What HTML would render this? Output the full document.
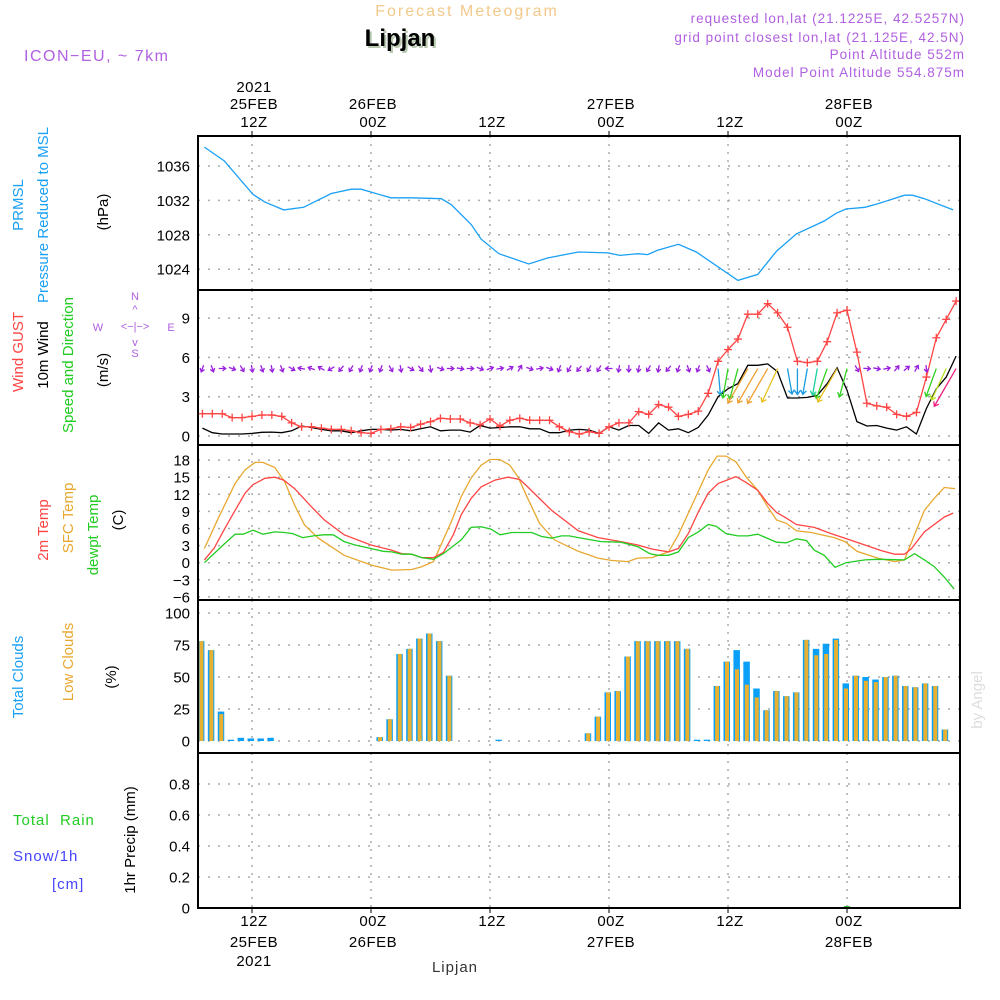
<!DOCTYPE html>
<html><head><meta charset="utf-8">
<style>
html,body{margin:0;padding:0;background:#fff;}
body{width:1000px;height:1000px;overflow:hidden;position:relative;font-family:"Liberation Sans",sans-serif;}
svg{position:absolute;left:0;top:0;}
text{font-family:"Liberation Sans",sans-serif;}
</style></head>
<body>
<svg id="chart" width="1000" height="1000" viewBox="0 0 1000 1000" xmlns="http://www.w3.org/2000/svg">
  <text x="467" y="16" text-anchor="middle" font-size="16" fill="#f2c98a" letter-spacing="2">Forecast Meteogram</text>
  <text x="402" y="48" text-anchor="middle" font-size="24" font-weight="bold" fill="#b8c8b0" font-family="Liberation Serif, serif">Lipjan</text>
  <text x="400" y="46" text-anchor="middle" font-size="24" font-weight="bold" fill="#000" font-family="Liberation Serif, serif">Lipjan</text>
  <text x="24" y="61" font-size="16" fill="#b060e0" letter-spacing="1.5">ICON−EU, ~ 7km</text>
  <g font-size="13.5" fill="#b060e0" text-anchor="end" letter-spacing="1">
    <text x="965" y="23">requested lon,lat (21.1225E, 42.5257N)</text>
    <text x="965" y="42">grid point closest lon,lat (21.125E, 42.5N)</text>
    <text x="965" y="59">Point Altitude 552m</text>
    <text x="965" y="77">Model Point Altitude 554.875m</text>
  </g>
  <g id="layer"></g>
</svg>
<script>
// ---------------- data ----------------
// hours since 25FEB 00Z
const pressTimes = [7.2,9.2,12.1,13.3,15.2,17.2,20,22,23,26,28.1,31.1,32.1,34.1,35.1,36.9,39.9,41.8,44.9,47.9,49.1,50.9,51.9,52.9,55,56.8,61,63,64.9,66.9,69.7,70.9,71.9,73.8,75.1,77.8,78.6,79.8,82.7];
const pressValues = [1038.2,1036.6,1032.7,1031.8,1030.9,1031.2,1032.8,1033.3,1033.3,1032.3,1032.3,1032.2,1031.5,1029.2,1027.5,1025.8,1024.6,1025.3,1026.0,1025.9,1025.6,1025.8,1025.7,1026.2,1026.9,1026.0,1022.7,1023.4,1026.1,1028.1,1029.6,1030.5,1031.0,1031.2,1031.6,1032.6,1032.6,1032.2,1030.9];

const hourStart = 7; // first hourly value: 25FEB 07Z
const gustValues = [1.7,1.7,1.7,1.4,1.4,1.5,1.6,1.6,1.5,1.0,0.7,0.7,0.6,0.5,0.5,0.4,0.25,0.2,0.5,0.55,0.7,0.65,0.9,1.1,1.35,1.3,1.3,1.0,0.85,1.3,0.75,1.2,1.35,1.2,1.2,1.2,0.7,0.33,0.15,0.33,
  0.2,0.7,1.0,1.0,1.86,1.65,2.4,2.2,1.5,1.65,1.9,3.26,5.7,6.6,7.4,9.3,9.3,10.1,9.4,8.3,5.7,5.6,5.7,7.2,9.4,9.6,6.4,2.5,2.3,2.2,1.65,1.5,1.8,4.5,7.5,8.9,10.3];
const windValues = [0.6,0.25,0.15,0.15,0.15,0.2,0.28,0.3,0.25,0.4,0.76,0.65,0.5,0.4,0.4,0.25,0.4,0.5,0.5,0.45,0.5,0.4,0.55,0.7,0.4,0.45,0.45,0.3,0.8,0.6,0.65,0.7,0.7,0.55,0.55,0.25,0.25,0.45,0.5,0.45,
  0.2,0.7,0.45,0.8,0.8,0.2,1.0,0.45,0.55,0.25,0.66,1.6,3.0,3.6,4.0,5.4,5.4,5.5,4.9,2.9,2.9,2.95,3.1,4.0,5.2,3.5,1.1,0.76,0.8,0.6,0.45,0.7,0.15,2.1,3.6,4.5,6.1];
// bearing (deg) the direction arrow points to
const windBearing = [200,160,90,110,150,170,160,170,160,120,280,290,300,240,220,210,200,200,200,150,170,120,140,170,110,90,100,90,110,70,80,60,30,110,80,110,200,210,220,210,
  210,270,190,180,190,210,190,220,200,160,200,155,175,190,195,210,210,210,205,170,180,190,190,200,210,195,150,95,100,80,40,50,30,175,200,205,210];

const t2Times = [7.2,8.2,9.2,10.1,11.3,12.1,13.3,14.3,15.2,16.3,18,19.3,21.3,24,26.1,27.1,28.1,29.1,30.3,31.3,32.3,33.1,34.1,35.1,36.5,37.8,39,39.8,42.2,44.9,46.9,49.2,50.9,52.3,54,55,56,57,58,59,60.8,61.8,63,64,64.9,65.9,66.9,68.7,70.4,71.8,73.8,75.5,76.8,77.8,78.5,79.8,81.8,82.7];
const t2Values = [0.5,2.6,5.8,8.6,12.2,13.7,14.8,15,14.5,13,9.8,7.5,4.9,3.1,2.2,1.6,1.5,0.9,0.9,1.8,4.9,8.4,11.3,13.3,14.5,15,14.6,13.3,9.2,5.6,4.4,3.7,3.1,2.4,1.9,2.5,5.1,8.9,12.2,13.9,15.1,14.1,12.7,10.4,8.8,7.8,6.7,6.2,5.1,4.3,3.1,2.1,1.5,1.5,2.5,5.4,8,8.7];
const sfcTimes = [7.2,8.6,10.3,11.3,12.3,13.1,14.3,15.3,16.3,17.3,18.7,21.3,24,26.1,28.1,29.1,30.3,32.1,33.1,34.1,35.1,36,37,38,38.8,39.8,41,42.5,44.9,46.9,48.2,49.9,50.9,52.3,54,55,56,57,58,58.9,59.8,60.8,61.8,63,64,64.9,65.9,66.9,68.4,70.7,71.8,73,75.1,76.8,77.8,78.8,79.8,80.8,81.8,82.9];
const sfcValues = [2.5,7.8,13.9,16.3,17.6,17.6,16.7,14.2,10.1,6.6,4.3,1.3,-0.4,-1.3,-1.2,-0.7,0.2,7.2,11.6,14.9,17.1,18.1,18.1,17.1,15.1,11.3,6.9,4,2,0.8,0.4,0.2,0.8,0.9,1.9,4.9,8.7,12.5,16.3,18.7,18.7,17.7,15.1,12.7,9.8,7.5,6.9,5.6,5.3,4.4,3.7,2,0.8,0.2,0.5,4.9,9.2,11.3,13.2,13];
const dewTimes = [7.2,9.1,10.3,11.1,12.1,13.1,14.3,15.3,16.1,17.1,18.2,19.2,20.2,21.3,22.4,24,25.2,26.1,27.1,28.1,29.1,30.3,31.3,33.1,34.1,35.1,36.1,37,38.2,40.2,41.2,42.2,43.2,44,44.9,47.2,49.2,50.9,52.1,52.9,54,55,56,57,58,58.8,59.8,61,62,63,64.9,65.9,66.9,67.9,68.7,69.7,70.8,71.9,73.8,75.1,77.8,78.8,79.8,80.8,81.8,82.8];
const dewValues = [0,3.1,5,5,5.7,5,5.4,5.3,5.1,4.4,4.7,4.9,4.9,3.7,3.1,2.5,2,1.9,1.5,1.5,0.9,0.6,1.6,4,6.2,6.3,5.9,4.9,5.3,5.3,4.6,4.3,4.7,4.7,4.4,3.7,3.6,2.8,1.6,1.3,1.3,1.9,4.4,5.4,6.7,6.4,5.1,4.7,4.7,5,3.6,3.5,4.2,3.9,2.2,1.3,-0.8,0,0.5,0.6,0.5,1.6,0.5,-0.7,-2.5,-4.6];

const totalCloud = [78,71,23,1,2.5,2,2,2.5,0,0,0,0,0,0,0,0,0,0,3,17,68,72,80,84,78,51,0,0,0,0,1,0,0,0,0,0,0,0,0,6,19,38,39,66,78,78,78,78,78,72,1,1,43,62,71,62,41,24,39,35,38,79,72,76,80,45,51,50,48,50,51,43,42,45,43,9,0];
const lowCloud   = [78,71,21,0,0,0,0,0,0,0,0,0,0,0,0,0,0,0,3,17,68,72,80,84,78,51,0,0,0,0,0,0,0,0,0,0,0,0,0,6,19,38,39,66,78,78,78,78,78,72,0,0,43,62,56,44,34,24,39,35,38,79,67,68,79,41,51,47,46,50,51,43,42,45,43,9,0];
const precipValues = new Array(77).fill(0);
precipValues[65] = 0.012;

const pressTicks = [1024,1028,1032,1036];
const windTicks = [0,3,6,9];
const tempTicks = [-6,-3,0,3,6,9,12,15,18];
const cloudTicks = [0,25,50,75,100];
const precipTicks = [0,0.2,0.4,0.6,0.8];
const gridHours = [12,24,36,48,60,72];
const topLabels = [["2021","25FEB","12Z"],["","26FEB","00Z"],["","","12Z"],["","27FEB","00Z"],["","","12Z"],["","28FEB","00Z"]];
const bottomLabels = [["12Z","25FEB","2021"],["00Z","26FEB",""],["12Z","",""],["00Z","27FEB",""],["12Z","",""],["00Z","28FEB",""]];

// ---------------- scales ----------------
const X0 = 198, X1 = 960;
const xAt = t => 252 + (t - 12) * 9.917;
const panels = {
  press: {y0:136, y1:290, f: v => 166 + (1036 - v) * 8.6},
  wind:  {y0:290, y1:445, f: v => 436 - v * 13.1},
  temp:  {y0:445, y1:600, f: v => 562.7 - v * 5.7},
  cloud: {y0:600, y1:753, f: v => 741 - v * 1.28},
  precip:{y0:753, y1:908, f: v => 908 - v * 155}
};
const NS = "http://www.w3.org/2000/svg";
const layer = document.getElementById("layer");
function mk(tag, attrs, parent) {
  const e = document.createElementNS(NS, tag);
  for (const k in attrs) e.setAttribute(k, attrs[k]);
  (parent || layer).appendChild(e);
  return e;
}
const defs = mk("defs", {});
Object.keys(panels).forEach(k => {
  const p = panels[k];
  const cp = mk("clipPath", {id: "clip-" + k}, defs);
  mk("rect", {x: X0, y: p.y0, width: X1 - X0, height: p.y1 - p.y0}, cp);
});

// grid + ticks
Object.keys(panels).forEach(k => {
  const p = panels[k];
  const g = mk("g", {});
  
  
  gridHours.forEach(h => {
    const l = mk("line", {x1: xAt(h), x2: xAt(h), y1: p.y0, y2: p.y1, stroke: "#aaa", "stroke-width": 1.5, "stroke-dasharray": "2,6"}, g);
    
    
  });
});
function yTicks(key, ticks, fmt) {
  const p = panels[key];
  const g = mk("g", {"font-size": 15, fill: "#000", "text-anchor": "end"});
  
  
  ticks.forEach(v => {
    const y = p.f(v);
    const l = mk("line", {x1: X0, x2: X1, y1: y, y2: y, stroke: "#aaa", "stroke-width": 1.5, "stroke-dasharray": "2,8"}, g);
    
    
    const t = mk("text", {x: 190, y: y + 5.5}, g);
    
    
    t.textContent = fmt ? fmt(v) : String(v).replace('-', '−');
  });
}
yTicks("press", pressTicks);
yTicks("wind", windTicks);
yTicks("temp", tempTicks);
yTicks("cloud", cloudTicks);
yTicks("precip", precipTicks, v => v === 0 ? "0" : v.toFixed(1));

function polyline(key, times, vals, color, name) {
  const p = panels[key];
  const pts = times.map((t, i) => xAt(t).toFixed(1) + "," + p.f(vals[i]).toFixed(1)).join(" ");
  const e = mk("polyline", {points: pts, fill: "none", stroke: color, "stroke-width": 1.3, "clip-path": "url(#clip-" + key + ")"});
  
  
  return e;
}
const hourly = arr => arr.map((_, i) => hourStart + i);

polyline("press", pressTimes, pressValues, "#1aa0f5", "pressure-line");
polyline("temp", sfcTimes, sfcValues, "#e8a830", "sfc-temp-line");
polyline("temp", t2Times, t2Values, "#ff4444", "2m-temp-line");
polyline("temp", dewTimes, dewValues, "#22cc22", "dewpoint-line");
polyline("wind", hourly(windValues), windValues, "#000", "wind-speed-line");
polyline("wind", hourly(gustValues), gustValues, "#ff4444", "wind-gust-line");

// gust markers
const gm = mk("g", {stroke: "#ff4444", "stroke-width": 1.3});


gustValues.forEach((v, i) => {
  const x = xAt(hourStart + i), y = panels.wind.f(v);
  const m = mk("path", {d: `M${x-4},${y}H${x+4}M${x},${y-4}V${y+4}`}, gm);
  
  
});

// wind direction arrows
const ga = mk("g", {fill: "none", "stroke-width": 1.3});


function speedColor(s) {
  if (s < 2.5) return "#9a20e0";
  if (s < 3.1) return "#1a9be0";
  if (s < 3.5) return "#16d0a0";
  if (s < 4.2) return "#30d020";
  if (s < 4.8) return "#b8e020";
  if (s < 5.3) return "#e8c020";
  if (s < 5.8) return "#f0a030";
  return "#f02080";
}
windValues.forEach((s, i) => {
  const x = xAt(hourStart + i), y = panels.wind.f(5.15);
  const b = windBearing[i] * Math.PI / 180;
  const L = s < 2.5 ? 7 : 10 + s * 5.5;
  const dx = Math.sin(b), dy = -Math.cos(b);
  const x0 = s < 2.5 ? x - dx * L / 2 : x, y0 = s < 2.5 ? y - dy * L / 2 : y;
  const x1 = x0 + dx * L, y1 = y0 + dy * L;
  const h = s < 2.5 ? 4 : 5;
  const a1 = b + Math.PI * 0.8, a2 = b - Math.PI * 0.8;
  const d = `M${x0},${y0}L${x1},${y1}M${x1 + Math.sin(a1) * h},${y1 - Math.cos(a1) * h}L${x1},${y1}L${x1 + Math.sin(a2) * h},${y1 - Math.cos(a2) * h}`;
  const e = mk("path", {d: d, stroke: speedColor(s)}, ga);
  
  
});

// cloud bars
const gc = mk("g", {});


totalCloud.forEach((v, i) => {
  const c = xAt(hourStart + i) - 1.5;
  const y0 = panels.cloud.f(0);
  const b1 = mk("rect", {x: c - 3, y: panels.cloud.f(v), width: 6.5, height: y0 - panels.cloud.f(v), fill: "#0aa0f8"}, gc);
  
  
  const lv = lowCloud[i];
  const b2 = mk("rect", {x: c - 1.5, y: panels.cloud.f(lv), width: 4, height: y0 - panels.cloud.f(lv), fill: "#e8b030"}, gc);
  
  
});
// precip bars
const gp = mk("g", {});


precipValues.forEach((v, i) => {
  const c = xAt(hourStart + i);
  const h = panels.precip.f(0) - panels.precip.f(v);
  const r = mk("rect", {x: c - 3, y: panels.precip.f(v), width: 6, height: Math.max(h, 0.01), fill: "#22bb22"}, gp);
  
  
});
const zl = mk("line", {x1: X0, x2: X1, y1: 907.5, y2: 907.5, stroke: "#000", "stroke-width": 1, "stroke-dasharray": "6,3"});



// panel frames
Object.keys(panels).forEach(k => {
  const p = panels[k];
  const r = mk("rect", {x: X0, y: p.y0, width: X1 - X0, height: p.y1 - p.y0, fill: "none", stroke: "#000", "stroke-width": 2});
  
  
});

// time axes
const gt = mk("g", {"font-size": 15, fill: "#000", "text-anchor": "middle", "letter-spacing": "0.5"});


const gb = mk("g", {"font-size": 15, fill: "#000", "text-anchor": "middle", "letter-spacing": "0.5"});


gridHours.forEach((h, i) => {
  const x = xAt(h);
  mk("line", {x1: x, x2: x, y1: 131, y2: 136, stroke: "#000"}, gt);
  mk("line", {x1: x, x2: x, y1: 908, y2: 913, stroke: "#000"}, gb);
  [92, 109, 127].forEach((y, j) => {
    if (!topLabels[i][j]) return;
    const t = mk("text", {x: x + 2, y: y}, gt);
    
    
    t.textContent = topLabels[i][j];
  });
  [926, 947, 966].forEach((y, j) => {
    if (!bottomLabels[i][j]) return;
    const t = mk("text", {x: x + 2, y: y}, gb);
    
    
    t.textContent = bottomLabels[i][j];
  });
});
</script>
<svg width="1000" height="1000" viewBox="0 0 1000 1000" xmlns="http://www.w3.org/2000/svg" style="pointer-events:none">
  <g font-size="15" text-anchor="middle">
    <text transform="translate(23,205) rotate(-90)" fill="#1aa0f5">PRMSL</text>
    <text transform="translate(48,215) rotate(-90)" fill="#1aa0f5">Pressure Reduced to MSL</text>
    <text transform="translate(108,212) rotate(-90)" fill="#000">(hPa)</text>
    <text transform="translate(23,352) rotate(-90)" fill="#ff4444">Wind GUST</text>
    <text transform="translate(48,355) rotate(-90)" fill="#000">10m Wind</text>
    <text transform="translate(73,365) rotate(-90)" fill="#22cc22">Speed and Direction</text>
    <text transform="translate(108,370) rotate(-90)" fill="#000">(m/s)</text>
    <text transform="translate(48,530) rotate(-90)" fill="#ff4444">2m Temp</text>
    <text transform="translate(73,518) rotate(-90)" fill="#e8a830">SFC Temp</text>
    <text transform="translate(98,535) rotate(-90)" fill="#22cc22">dewpt Temp</text>
    <text transform="translate(123,520) rotate(-90)" fill="#000">(C)</text>
    <text transform="translate(23,677) rotate(-90)" fill="#1aa0f5">Total Clouds</text>
    <text transform="translate(73,662) rotate(-90)" fill="#e8a830">Low Clouds</text>
    <text transform="translate(116,677) rotate(-90)" fill="#000">(%)</text>
    <text transform="translate(135,840) rotate(-90)" fill="#000">1hr Precip (mm)</text>
  </g>
  <g font-size="15" letter-spacing="1">
    <text x="13" y="825" fill="#22cc22" xml:space="preserve">Total  Rain</text>
    <text x="13" y="861" fill="#4444ff">Snow/1h</text>
    <text x="52" y="889" fill="#4444ff">[cm]</text>
  </g>
  <g font-size="11" fill="#b060e0" text-anchor="middle">
    <text x="135" y="300">N</text>
    <text x="98" y="331">W</text>
    <text x="171" y="331">E</text>
    <text x="135" y="357">S</text>
    <text x="135" y="313">^</text>
    <text x="135" y="330">&lt;−|−&gt;</text>
    <text x="135" y="346">v</text>
  </g>
  <text transform="translate(982,700) rotate(-90)" text-anchor="middle" font-size="15" fill="#ddd" font-family="Liberation Serif, serif">by Angel</text>
  <text x="455" y="972" text-anchor="middle" font-size="15" fill="#333" font-family="Liberation Serif, serif" letter-spacing="1">Lipjan</text>
</svg>
</body></html>
